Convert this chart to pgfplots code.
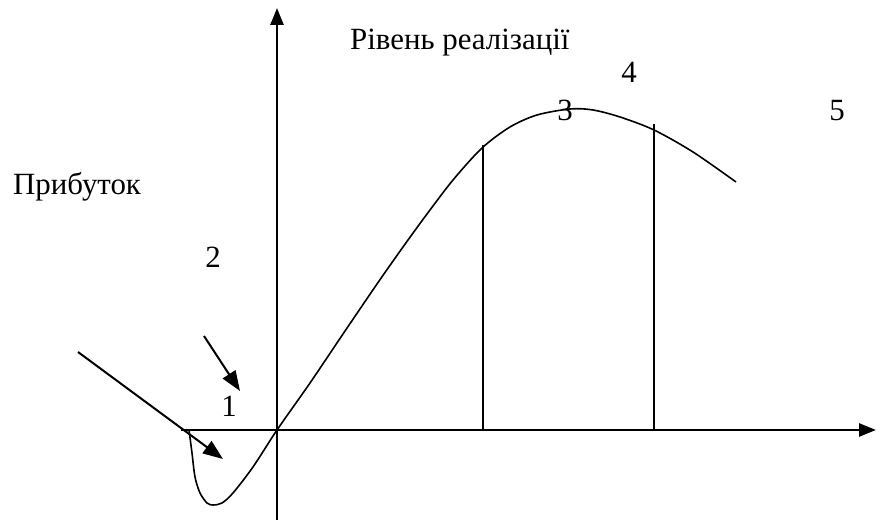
\documentclass[border=0pt]{standalone}
\usepackage{fontspec}
\setmainfont{Liberation Serif}
\usepackage{pgfplots}
\pgfplotsset{compat=1.18}
\usetikzlibrary{arrows.meta}

\begin{document}
\begin{tikzpicture}[lbl/.style={font=\fontsize{31}{36}\selectfont, inner sep=0pt}]
\begin{axis}[
    scale only axis,
    width=876bp, height=520bp,
    xmin=-277, xmax=599,
    ymin=-90, ymax=430,
    hide axis,
    clip=false,
]
% axes
\addplot[black, line width=2.6bp, -{Triangle[length=17bp, width=13bp]}] coordinates {(0,-90) (0,422)};
\addplot[black, line width=2.6bp, -{Triangle[length=17bp, width=13bp]}] coordinates {(-96,0) (599,0)};

% curve
\addplot[black, line width=1.6bp, smooth, tension=0.5] coordinates {
    (-88,0) (-85,-23) (-82,-47) (-77,-63) (-70,-73) (-64,-75) (-55,-73)
    (-44,-63) (-24,-37) (0,0) (33,47) (66,96) (100,146) (126,183)
    (150,216) (176,250) (205,282) (233,303) (260,315) (293,321)
    (316,320) (343,313) (377,300) (416,278) (459,248)
};

% stage boundaries
\addplot[black, line width=1.6bp] coordinates {(206,0) (206,285)};
\addplot[black, line width=1.6bp] coordinates {(377,0) (377,306)};

% pointer arrows
\addplot[black, line width=2bp, -{Triangle[length=20bp, width=15bp]}] coordinates {(-199,78) (-54,-29)};
\addplot[black, line width=2bp, -{Triangle[length=20bp, width=15bp]}] coordinates {(-73,94) (-37,39)};

% labels
\node[lbl, anchor=base west] at (axis cs:73,380) {Рівень реалізації};
\node[lbl, anchor=base west] at (axis cs:-264,235) {Прибуток};
\node[lbl, anchor=base] at (axis cs:352,347) {4};
\node[lbl, anchor=base] at (axis cs:288,309) {3};
\node[lbl, anchor=base] at (axis cs:560,309) {5};
\node[lbl, anchor=base] at (axis cs:-64,162) {2};
\node[lbl, anchor=base] at (axis cs:-48,13) {1};
\end{axis}
\pgfresetboundingbox
\path[use as bounding box] (current axis.south west) rectangle (current axis.north east);
\end{tikzpicture}
\end{document}
